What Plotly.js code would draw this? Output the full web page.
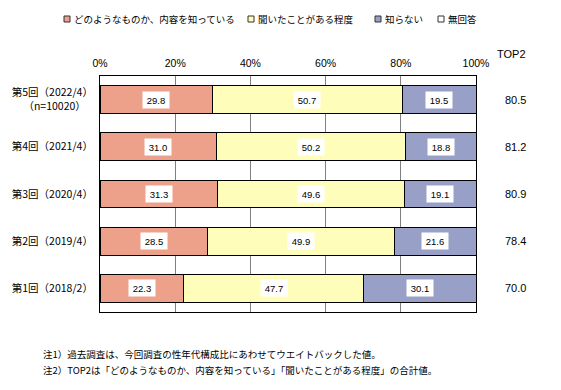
<!DOCTYPE html>
<html>
<head>
<meta charset="utf-8">
<script src="https://cdn.plot.ly/plotly-3.0.1.min.js"></script>
<style>html,body{margin:0;padding:0;background:#fff;}#chart{width:561px;height:390px;}</style>
</head>
<body>
<div id="chart"></div>
<script>
// Categories (bottom to top)
var categories = [
  '第1回（2018/2）',
  '第2回（2019/4）',
  '第3回（2020/4）',
  '第4回（2021/4）',
  '第5回（2022/4）<br>（n=10020）&#160;&#160;&#160;'
];
var seriesNames = ['どのようなものか、内容を知っている', '聞いたことがある程度', '知らない', '無回答'];
var knowContent = [22.3, 28.5, 31.3, 31.0, 29.8];
var heardOf     = [47.7, 49.9, 49.6, 50.2, 50.7];
var dontKnow    = [30.1, 21.6, 19.1, 18.8, 19.5];
var noAnswer    = [0, 0, 0, 0, 0];
var top2        = [70.0, 78.4, 80.9, 81.2, 80.5];
var xTickVals   = [0, 20, 40, 60, 80, 100];
var xTickText   = ['0%', '20%', '40%', '60%', '80%', '100%'];
var footnotes = [
  '注1）過去調査は、今回調査の性年代構成比にあわせてウエイトバックした値。',
  '注2）TOP2は「どのようなものか、内容を知っている」「聞いたことがある程度」の合計値。'
];

var colors = ['#EDA18A', '#FFFDBA', '#99A0C7', '#FFFFFF'];
var seriesValues = [knowContent, heardOf, dontKnow, noAnswer];
var jp = '"Noto Sans CJK JP", "Noto Sans", sans-serif';
var numFont = '"Liberation Sans Narrow", "Liberation Sans", sans-serif';

var W = 561, H = 390, ML = 100, MR = 85, MT = 76, MB = 78;
var PW = W - ML - MR, PH = H - MT - MB;
function px2x(p) { return (p - ML) / PW; }
function py2y(p) { return (H - MB - p) / PH; }

var traces = [];
seriesValues.forEach(function (vals, i) {
  traces.push({
    type: 'bar', orientation: 'h', x: vals, y: categories,
    name: seriesNames[i], showlegend: false,
    marker: {color: colors[i], line: {color: '#000', width: 1}},
    hoverinfo: 'x+name'
  });
});

var annotations = [];
var shapes = [];
// segment value labels
for (var c = 0; c < categories.length; c++) {
  var cum = 0;
  for (var s = 0; s < 3; s++) {
    var v = seriesValues[s][c];
    annotations.push({
      x: cum + v / 2, y: categories[c], xref: 'x', yref: 'y',
      text: v.toFixed(1), showarrow: false,
      bgcolor: '#fff', borderpad: 3, width: 20, height: 10,
      font: {family: numFont, size: 9.5, color: '#000'}
    });
    cum += v;
  }
  annotations.push({
    x: px2x(528), y: categories[c], xref: 'paper', yref: 'y',
    text: top2[c].toFixed(1), showarrow: false,
    font: {family: numFont, size: 11, color: '#000'}
  });
}
annotations.push({
  x: px2x(528), y: py2y(46), xref: 'paper', yref: 'paper',
  text: 'TOP2', showarrow: false,
  font: {family: numFont, size: 11, color: '#000'}
});
footnotes.forEach(function (t, i) {
  annotations.push({
    x: px2x(41), y: py2y(354 + i * 15.5), xref: 'paper', yref: 'paper',
    xanchor: 'left', yanchor: 'middle',
    text: t, showarrow: false,
    font: {family: jp, size: 9.5, color: '#000'}
  });
});
// legend (drawn manually to match the compact layout)
var legendTextX = [72, 256, 383, 446];
var legendY = 19;
seriesNames.forEach(function (n, i) {
  var tx = legendTextX[i];
  shapes.push({
    type: 'rect', xref: 'paper', yref: 'paper',
    x0: px2x(tx - 8), x1: px2x(tx - 2), y0: py2y(legendY + 3), y1: py2y(legendY - 3),
    fillcolor: colors[i], line: {color: '#333', width: 1}
  });
  annotations.push({
    x: px2x(tx), y: py2y(legendY), xref: 'paper', yref: 'paper',
    xanchor: 'left', yanchor: 'middle', text: n, showarrow: false,
    font: {family: jp, size: 9.5, color: '#000'}
  });
});

var layout = {
  width: W, height: H,
  margin: {l: ML, r: MR, t: MT, b: MB},
  paper_bgcolor: '#fff', plot_bgcolor: '#fff',
  barmode: 'stack', bargap: 0.407,
  font: {family: jp, size: 11, color: '#000'},
  xaxis: {
    side: 'top', range: [0, 100], tickvals: xTickVals, ticktext: xTickText,
    showgrid: true, gridcolor: '#808080', gridwidth: 1,
    showline: true, linecolor: '#000', linewidth: 1, mirror: true,
    ticks: '', zeroline: false, fixedrange: true, ticklabelstandoff: 4,
    automargin: false,
    tickfont: {family: numFont, size: 10.5, color: '#000'}
  },
  yaxis: {
    type: 'category', showgrid: false, showline: true, linecolor: '#000', linewidth: 1,
    mirror: true, ticks: '', ticklabelstandoff: 4, automargin: false,
    tickfont: {family: jp, size: 10.5, color: '#000'}
  },
  annotations: annotations,
  shapes: shapes,
  showlegend: false
};

Plotly.newPlot('chart', traces, layout, {displayModeBar: false, staticPlot: true});
</script>
</body>
</html>
